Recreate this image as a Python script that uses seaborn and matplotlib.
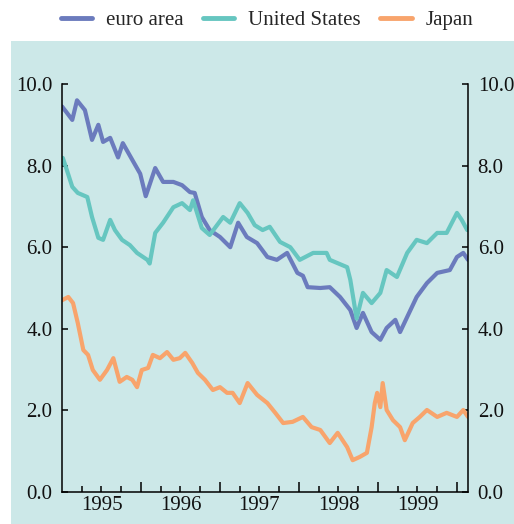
import matplotlib
matplotlib.use("Agg")
import matplotlib.pyplot as plt
import matplotlib.ticker as mticker
from matplotlib.patches import Rectangle
from matplotlib.lines import Line2D
import pandas as pd
import seaborn as sns

# 10-year government bond yields (% p.a.), time in decimal years
euro_t = [1995.00, 1995.06, 1995.13, 1995.19, 1995.29, 1995.38, 1995.46, 1995.52, 1995.61, 1995.71,
          1995.77, 1995.89, 1995.99, 1996.06, 1996.18, 1996.28, 1996.41, 1996.52, 1996.62, 1996.68,
          1996.77, 1996.87, 1997.00, 1997.13, 1997.23, 1997.34, 1997.47, 1997.60, 1997.72, 1997.85,
          1997.98, 1998.05, 1998.11, 1998.27, 1998.39, 1998.52, 1998.65, 1998.73, 1998.81, 1998.92,
          1999.03, 1999.11, 1999.22, 1999.28, 1999.37, 1999.49, 1999.62, 1999.75, 1999.91, 2000.00,
          2000.08, 2000.14]
euro_v = [9.45, 9.30, 9.12, 9.60, 9.36, 8.63, 9.00, 8.58, 8.68, 8.20,
          8.55, 8.14, 7.80, 7.25, 7.94, 7.60, 7.60, 7.52, 7.35, 7.33,
          6.74, 6.42, 6.25, 6.00, 6.60, 6.25, 6.10, 5.76, 5.69, 5.86,
          5.37, 5.30, 5.02, 5.00, 5.02, 4.78, 4.46, 4.02, 4.39, 3.92,
          3.73, 4.02, 4.22, 3.92, 4.29, 4.78, 5.12, 5.37, 5.44, 5.76,
          5.86, 5.69]

us_t = [1995.00, 1995.01, 1995.06, 1995.13, 1995.20, 1995.32, 1995.38, 1995.46, 1995.52, 1995.61,
        1995.67, 1995.76, 1995.86, 1995.95, 1996.08, 1996.11, 1996.18, 1996.28, 1996.41, 1996.52,
        1996.62, 1996.66, 1996.77, 1996.87, 1997.04, 1997.13, 1997.25, 1997.35, 1997.44, 1997.54,
        1997.63, 1997.76, 1997.89, 1998.01, 1998.18, 1998.35, 1998.39, 1998.61, 1998.65, 1998.73,
        1998.81, 1998.92, 1999.03, 1999.11, 1999.24, 1999.37, 1999.49, 1999.62, 1999.75, 1999.87,
        2000.00, 2000.06, 2000.13]
us_v = [8.05, 8.19, 7.90, 7.48, 7.33, 7.23, 6.74, 6.23, 6.18, 6.67,
        6.42, 6.18, 6.05, 5.86, 5.69, 5.60, 6.35, 6.60, 6.98, 7.08,
        6.91, 7.15, 6.47, 6.30, 6.74, 6.60, 7.08, 6.84, 6.54, 6.42,
        6.50, 6.13, 6.00, 5.69, 5.86, 5.86, 5.69, 5.51, 5.20, 4.25,
        4.88, 4.63, 4.88, 5.44, 5.27, 5.86, 6.18, 6.10, 6.35, 6.35,
        6.84, 6.67, 6.42]

japan_t = [1995.00, 1995.08, 1995.14, 1995.20, 1995.27, 1995.33, 1995.39, 1995.48, 1995.57, 1995.65,
           1995.73, 1995.82, 1995.89, 1995.95, 1996.01, 1996.09, 1996.15, 1996.24, 1996.33, 1996.41,
           1996.49, 1996.56, 1996.65, 1996.72, 1996.81, 1996.91, 1997.00, 1997.09, 1997.16, 1997.25,
           1997.35, 1997.47, 1997.60, 1997.70, 1997.80, 1997.92, 1998.05, 1998.16, 1998.27, 1998.39,
           1998.49, 1998.61, 1998.68, 1998.77, 1998.86, 1998.92, 1998.96, 1998.99, 1999.03, 1999.06,
           1999.11, 1999.19, 1999.28, 1999.34, 1999.44, 1999.53, 1999.62, 1999.75, 1999.87, 2000.00,
           2000.08, 2000.14]
japan_v = [4.70, 4.78, 4.63, 4.14, 3.48, 3.36, 2.99, 2.75, 2.99, 3.28,
           2.70, 2.82, 2.75, 2.57, 2.99, 3.04, 3.36, 3.28, 3.43, 3.24,
           3.28, 3.41, 3.16, 2.92, 2.75, 2.50, 2.57, 2.43, 2.43, 2.18,
           2.67, 2.38, 2.18, 1.94, 1.69, 1.72, 1.84, 1.59, 1.52, 1.20,
           1.45, 1.10, 0.78, 0.86, 0.96, 1.59, 2.18, 2.43, 2.08, 2.67,
           2.01, 1.76, 1.59, 1.27, 1.69, 1.84, 2.01, 1.84, 1.94, 1.84,
           2.01, 1.84]

series_names = ['euro area', 'United States', 'Japan']
series_colors = ['#6b7bbd', '#66c6c0', '#f8a46c']
year_labels = [1995, 1996, 1997, 1998, 1999]

df = pd.concat([
    pd.DataFrame({'year': euro_t, 'value': euro_v, 'series': 'euro area'}),
    pd.DataFrame({'year': us_t, 'value': us_v, 'series': 'United States'}),
    pd.DataFrame({'year': japan_t, 'value': japan_v, 'series': 'Japan'}),
])

sns.set_theme(style="ticks")
plt.rcParams['font.family'] = ['Liberation Serif', 'DejaVu Serif']

bg = '#cce8e8'
fs = 15

fig = plt.figure(figsize=(5.14, 5.24), dpi=100)
fig.patches.append(Rectangle((11 / 514, 0), 1 - 11 / 514, 1 - 41 / 524, transform=fig.transFigure,
                             facecolor=bg, edgecolor='none', zorder=-10))
ax = fig.add_axes([62 / 514, 1 - 492 / 524, 406 / 514, 408 / 524])
ax.set_facecolor(bg)

sns.lineplot(data=df, x='year', y='value', hue='series', hue_order=series_names,
             palette=dict(zip(series_names, series_colors)), linewidth=3.0,
             estimator=None, legend=False, ax=ax)

ax.set_xlim(1995.0, 2000.14)
ax.set_ylim(0, 10)
ax.set_xlabel('')
ax.set_ylabel('')

# spines
ax.spines['top'].set_visible(False)
for s in ['left', 'right', 'bottom']:
    ax.spines[s].set_visible(True)
    ax.spines[s].set_color('black')
    ax.spines[s].set_linewidth(1.1)

# y axis on both sides
ax.yaxis.set_major_locator(mticker.FixedLocator([0, 2, 4, 6, 8, 10]))
ax.yaxis.set_major_formatter(mticker.FormatStrFormatter('%.1f'))
ax.tick_params(axis='y', which='major', direction='in', length=4, width=1.1, color='black',
               left=True, right=True, labelleft=True, labelright=True,
               labelsize=fs, labelcolor='#111111', pad=7)

# x axis: long ticks at year ends, short ticks at quarters, labels mid-year
ax.xaxis.set_major_locator(mticker.FixedLocator([1996, 1997, 1998, 1999, 2000]))
ax.xaxis.set_major_formatter(mticker.NullFormatter())
quarters = [y + q for y in range(1995, 2000) for q in (0.25, 0.5, 0.75)]
ax.xaxis.set_minor_locator(mticker.FixedLocator(quarters))
ax.xaxis.set_minor_formatter(mticker.FuncFormatter(
    lambda v, p: str(int(v)) if abs(v % 1 - 0.5) < 0.01 and int(v) in year_labels else ''))
ax.tick_params(axis='x', which='major', direction='in', length=7, width=1.1, color='black')
ax.tick_params(axis='x', which='minor', direction='in', length=4, width=1.1, color='black',
               labelsize=fs, labelcolor='#111111', pad=3)

# legend on top
handles = [Line2D([0], [0], color=c, lw=3.5) for c in series_colors]
fig.legend(handles, series_names, loc='center', bbox_to_anchor=(267 / 514, 1 - 20 / 524), ncol=3,
           frameon=False, fontsize=fs, handlelength=1.5, handletextpad=0.65, columnspacing=0.95)

fig.savefig('out.png', dpi=100)
